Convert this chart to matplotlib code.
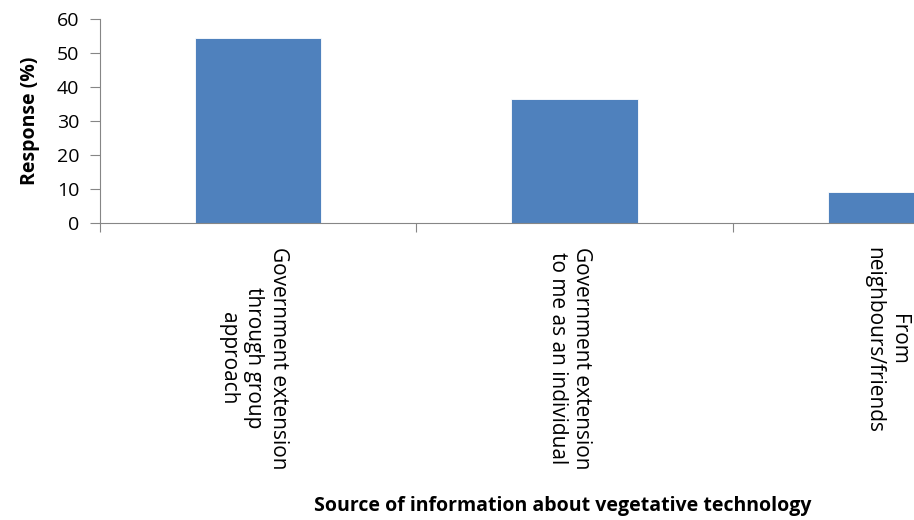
import numpy as np
import matplotlib
matplotlib.use("Agg")
import matplotlib.pyplot as plt
import matplotlib.transforms as mtransforms

# data
categories = ["Government extension\nthrough group\napproach",
              "Government extension\nto me as an individual",
              "From\nneighbours/friends"]
response = [54.5, 36.4, 9.1]
y_ticks = [0, 10, 20, 30, 40, 50, 60]

plt.rcParams['font.family'] = ['Open Sans', 'DejaVu Sans']
axis_grey = '#868686'
bar_blue = '#4F81BD'

fig = plt.figure(figsize=(9.14, 5.2), dpi=100)
# plot area runs past the right edge, like the cropped original
ax = fig.add_axes([100 / 914, (520 - 223) / 520, 949 / 914, 204 / 520])

x = np.arange(len(categories))
ax.bar(x, response, width=0.4, color=bar_blue, edgecolor='white', linewidth=0.6)

ax.set_xlim(-0.5, len(categories) - 0.5)
ax.set_ylim(0, 60)
ax.set_yticks(y_ticks)
ax.tick_params(axis='y', labelsize=14, length=7, color=axis_grey, pad=8)

# tick marks between categories, labels on the categories
ax.set_xticks(np.arange(-0.5, len(categories), 1.0))
ax.set_xticklabels([])
ax.tick_params(axis='x', which='major', length=6.5, color=axis_grey)
ax.set_xticks(x, minor=True)
ax.set_xticklabels(categories, minor=True, rotation=270, ha='center', va='top',
                   multialignment='center', fontsize=15, linespacing=1.25)
ax.tick_params(axis='x', which='minor', length=0, pad=17)

# nudge rotated labels a little left so the last one is not cut off
shift = mtransforms.ScaledTranslation(-5 / 100, 0, fig.dpi_scale_trans)
for lbl in ax.get_xticklabels(minor=True):
    lbl.set_transform(lbl.get_transform() + shift)

for side in ['top', 'right']:
    ax.spines[side].set_visible(False)
for side in ['left', 'bottom']:
    ax.spines[side].set_color(axis_grey)

ax.set_ylabel('Response (%)', fontsize=14, fontweight='bold', labelpad=12)
fig.text(563 / 914, 1 - 506 / 520, 'Source of information about vegetative technology',
         ha='center', va='center', fontsize=14, fontweight='bold')

fig.savefig('out.png', dpi=100)
